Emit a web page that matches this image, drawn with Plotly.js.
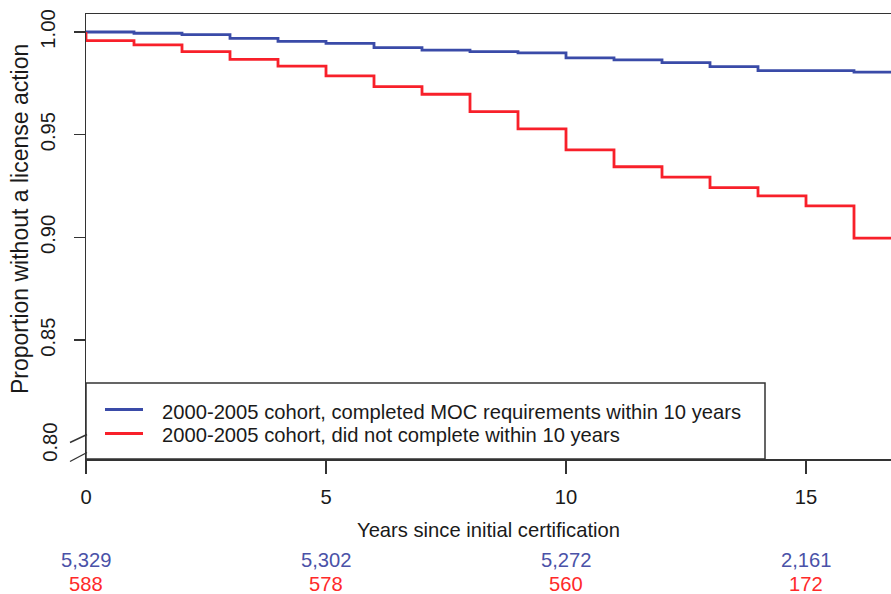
<!DOCTYPE html>
<html>
<head>
<meta charset="utf-8">
<script src="https://cdn.plot.ly/plotly-3.0.1.min.js"></script>
<style>html,body{margin:0;padding:0;background:#fff;}#chart{width:891px;height:594px;}</style>
</head>
<body>
<div id="chart"></div>
<script>
// ---- data ----
var years = [0, 0, 1, 2, 3, 4, 5, 6, 7, 8, 9, 10, 11, 12, 13, 14, 15, 16, 17];
var completedMOC = [1.000, 1.000, 0.9994, 0.9987, 0.9969, 0.9954, 0.9945, 0.9924, 0.9912, 0.9904, 0.9898, 0.9874, 0.9864, 0.9851, 0.9831, 0.9812, 0.9812, 0.9805, 0.9805];
var didNotComplete = [1.000, 0.9958, 0.9937, 0.9904, 0.9867, 0.9834, 0.9786, 0.9734, 0.9697, 0.9612, 0.9528, 0.9426, 0.9344, 0.9293, 0.9242, 0.9202, 0.9153, 0.8996, 0.8996];
var seriesNames = ["2000-2005 cohort, completed MOC requirements within 10 years",
                   "2000-2005 cohort, did not complete within 10 years"];
var riskTimes = [0, 5, 10, 15];
var riskCompleted = ["5,329", "5,302", "5,272", "2,161"];
var riskNotCompleted = ["588", "578", "560", "172"];
var xTickVals = [0, 5, 10, 15];
var yTickVals = [0.85, 0.90, 0.95, 1.00];
var yTickText = ["0.85", "0.90", "0.95", "1.00"];
var yBreakLabel = "0.80";
var xTitle = "Years since initial certification";
var yTitle = "Proportion without a license action";

// ---- styling ----
var BLUE = "#3A4BA8", RED = "#F8202A";
var BLUE_TXT = "#4A52A8", RED_TXT = "#FF2A2A";
var AX = "#333333", TXT = "#1a1a1a";
var FONT = "Liberation Sans, Arial, sans-serif";
var FS = 20.2;

var traces = [
  {x: years, y: completedMOC, mode: "lines", line: {shape: "hv", color: BLUE, width: 2.8}, name: seriesNames[0], showlegend: false, hoverinfo: "skip"},
  {x: years, y: didNotComplete, mode: "lines", line: {shape: "hv", color: RED, width: 2.8}, name: seriesNames[1], showlegend: false, hoverinfo: "skip"}
];

// plot area: x 86..891 px, y 14..459 px
var L = 86, T = 14, W = 805, H = 445;
function px(xp) { return (xp - L) / W; }
function py(yp) { return (T + H - yp) / H; }

var shapes = [];
// legend box
shapes.push({type: "rect", xref: "paper", yref: "paper", x0: 0, x1: px(765), y0: 0, y1: py(383), fillcolor: "#ffffff", line: {color: AX, width: 1.5}, layer: "above"});
shapes.push({type: "line", xref: "paper", yref: "paper", x0: px(105), x1: px(143), y0: py(409.5), y1: py(409.5), line: {color: BLUE, width: 2.8}, layer: "above"});
shapes.push({type: "line", xref: "paper", yref: "paper", x0: px(105), x1: px(143), y0: py(433.5), y1: py(433.5), line: {color: RED, width: 2.8}, layer: "above"});
// axis break marks
shapes.push({type: "line", xref: "paper", yref: "paper", x0: px(70), y0: py(442.5), x1: px(87), y1: py(434.5), line: {color: AX, width: 1.4}, layer: "above"});
shapes.push({type: "line", xref: "paper", yref: "paper", x0: px(70), y0: py(461.5), x1: px(87), y1: py(452.5), line: {color: AX, width: 1.4}, layer: "above"});

var annotations = [];
annotations.push({xref: "paper", yref: "paper", x: px(160), y: py(411.5), xanchor: "left", yanchor: "middle", text: seriesNames[0], showarrow: false, font: {family: FONT, size: FS, color: TXT}});
annotations.push({xref: "paper", yref: "paper", x: px(160), y: py(435), xanchor: "left", yanchor: "middle", text: seriesNames[1], showarrow: false, font: {family: FONT, size: FS, color: TXT}});
annotations.push({xref: "paper", yref: "y", x: px(50), y: 0.80, xanchor: "center", yanchor: "middle", textangle: -90, text: yBreakLabel, showarrow: false, font: {family: FONT, size: FS, color: TXT}});
annotations.push({xref: "paper", yref: "paper", x: px(20), y: py(219), xanchor: "center", yanchor: "middle", textangle: -90, text: yTitle, showarrow: false, font: {family: FONT, size: 23, color: TXT}});
for (var i = 0; i < riskTimes.length; i++) {
  annotations.push({xref: "x", yref: "paper", x: riskTimes[i], y: py(560), xanchor: "center", yanchor: "middle", text: riskCompleted[i], showarrow: false, font: {family: FONT, size: FS, color: BLUE_TXT}});
  annotations.push({xref: "x", yref: "paper", x: riskTimes[i], y: py(584), xanchor: "center", yanchor: "middle", text: riskNotCompleted[i], showarrow: false, font: {family: FONT, size: FS, color: RED_TXT}});
}

var layout = {
  width: 891, height: 594,
  margin: {l: L, r: 0, t: T, b: 594 - T - H, pad: 0},
  paper_bgcolor: "#ffffff", plot_bgcolor: "#ffffff",
  showlegend: false,
  font: {family: FONT, size: FS, color: TXT},
  xaxis: {
    range: [0, W / 48], tickvals: xTickVals, ticks: "outside", ticklen: 13, tickwidth: 1.4, tickcolor: AX,
    showline: true, linecolor: AX, linewidth: 1.5, mirror: true, showgrid: false, zeroline: false,
    ticklabelstandoff: 6,
    title: {text: xTitle, standoff: 16, font: {family: FONT, size: FS, color: TXT}},
    automargin: false, fixedrange: true
  },
  yaxis: {
    range: [1 - (459 - 32) / 2054, 1 + (32 - 14) / 2054],
    tickvals: yTickVals, ticktext: yTickText, tickangle: -90,
    ticks: "outside", ticklen: 11, tickwidth: 1.4, tickcolor: AX,
    showline: true, linecolor: AX, linewidth: 1.5, mirror: false, showgrid: false, zeroline: false,
    ticklabelstandoff: 10,
    automargin: false, fixedrange: true
  },
  shapes: shapes,
  annotations: annotations
};

Plotly.newPlot("chart", traces, layout, {displayModeBar: false, staticPlot: true});
</script>
</body>
</html>
